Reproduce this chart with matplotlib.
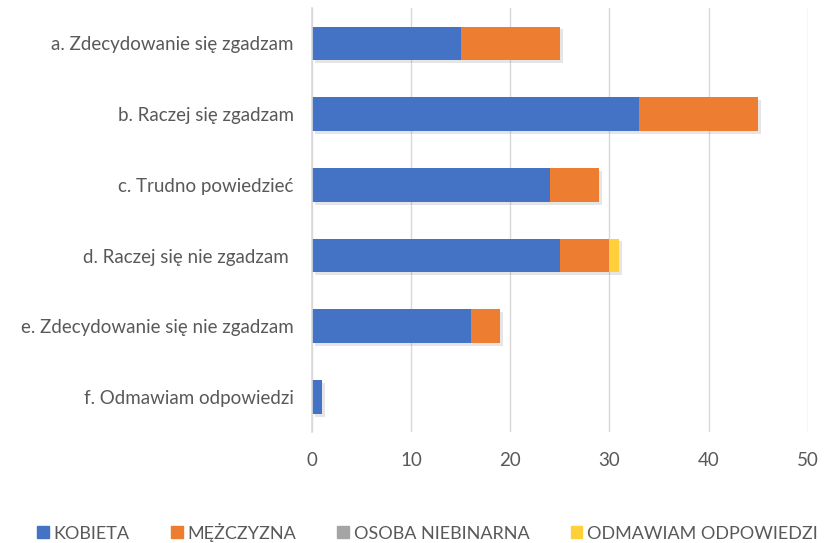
import numpy as np
import matplotlib.pyplot as plt
import matplotlib.patheffects as pe
from matplotlib.patches import Patch

categories = [
    "a. Zdecydowanie się zgadzam",
    "b. Raczej się zgadzam",
    "c. Trudno powiedzieć",
    "d. Raczej się nie zgadzam ",
    "e. Zdecydowanie się nie zgadzam",
    "f. Odmawiam odpowiedzi",
]
series_names = ["KOBIETA", "MĘŻCZYZNA", "OSOBA NIEBINARNA", "ODMAWIAM ODPOWIEDZI"]
kobieta = [15, 33, 24, 25, 16, 1]
mezczyzna = [10, 12, 5, 5, 3, 0]
niebinarna = [0, 0, 0, 0, 0, 0]
odmawiam = [0, 0, 0, 1, 0, 0]
colors = ["#4472C4", "#ED7D31", "#A5A5A5", "#FFD03A"]

plt.rcParams['font.family'] = ['Lato', 'DejaVu Sans']
text_color = "#595959"

fig = plt.figure(figsize=(8.25, 5.43), dpi=100)
ax = fig.add_axes([0.378, 0.204, 0.601, 0.781])

y = np.arange(len(categories))
left = np.zeros(len(categories))
shadow = [pe.SimplePatchShadow(offset=(2, -2), shadow_rgbFace='#808080', alpha=0.2), pe.Normal()]
for vals, col in zip([kobieta, mezczyzna, niebinarna, odmawiam], colors):
    vals = np.array(vals, dtype=float)
    bars = ax.barh(y, vals, left=left, height=0.48, color=col, zorder=3)
    for b, v in zip(bars, vals):
        if v > 0:
            b.set_path_effects(shadow)
    left += vals

ax.set_xlim(0, 50)
ax.set_ylim(5.5, -0.5)
ax.set_xticks(np.arange(0, 51, 10))
ax.set_yticks(y)
ax.set_yticklabels(categories)
ax.grid(axis='x', color='#D9D9D9', linewidth=1, zorder=0)
for s in ['top', 'right', 'bottom']:
    ax.spines[s].set_visible(False)
ax.spines['left'].set_color('#D9D9D9')
ax.spines['left'].set_linewidth(1.2)
ax.spines['left'].set_zorder(4)
ax.tick_params(axis='both', length=0, labelsize=13.5, colors=text_color)
ax.tick_params(axis='x', pad=14)
ax.tick_params(axis='y', pad=13)

handles = [Patch(color=c) for c in colors]
fig.legend(handles, series_names, loc='center', bbox_to_anchor=(0.518, 0.02),
           ncol=4, frameon=False, fontsize=13, labelcolor=text_color,
           handlelength=0.65, handleheight=0.65, handletextpad=0.25, columnspacing=2.3)

fig.savefig("out.png", dpi=100)
